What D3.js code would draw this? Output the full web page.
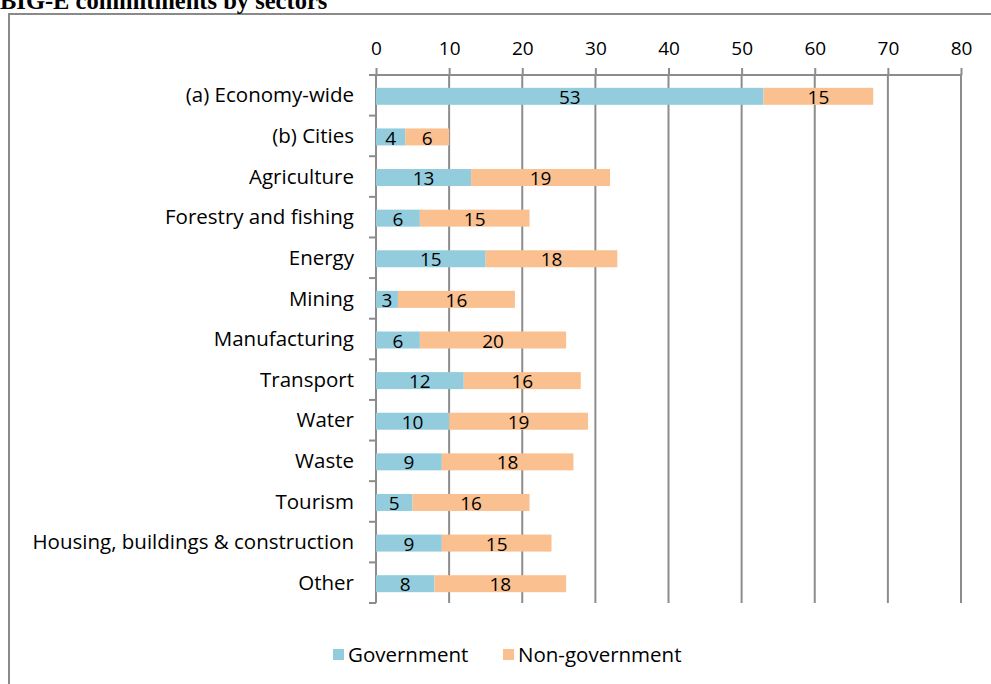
<!DOCTYPE html>
<html><head><meta charset="utf-8">
<script src="https://cdn.jsdelivr.net/npm/d3@7"></script>
<style>body{margin:0;background:#fff}svg{display:block}</style>
</head><body>
<svg id="c" width="991" height="684"></svg>
<script>
const categories = ["(a) Economy-wide","(b) Cities","Agriculture","Forestry and fishing","Energy","Mining","Manufacturing","Transport","Water","Waste","Tourism","Housing, buildings & construction","Other"];
const government = [53,4,13,6,15,3,6,12,10,9,5,9,8];
const nonGovernment = [15,6,19,15,18,16,20,16,19,18,16,15,18];
const seriesNames = ["Government","Non-government"];
const xTicks = [0,10,20,30,40,50,60,70,80];
const colors = ["#93CDDD","#FAC090"];
const title = "BIG-E commitments by sectors";

(function(){
const svg = d3.select("#c");
const font = "'Open Sans', sans-serif";
const fs = 19, fsCat = 20.5;
const pL = 376, pR = 961, pT = 75, pB = 603;
const x = d3.scaleLinear().domain([0,80]).range([pL,pR]);
const yb = d3.scaleBand().domain(categories).range([pT,pB]);

// frame
svg.append("path").attr("d",`M9,684 V14 H991`).attr("fill","none").attr("stroke","#8a8a8a").attr("stroke-width",2);
svg.append("text").attr("x",0).attr("y",9).attr("font-family","'Liberation Serif', serif").attr("font-weight","bold").attr("font-size",24.5).text(title);

// gridlines
svg.append("g").selectAll("line").data(xTicks.slice(1)).join("line")
  .attr("x1",d=>x(d)).attr("x2",d=>x(d)).attr("y1",pT).attr("y2",pB)
  .attr("stroke","#8c8c8c").attr("stroke-width",2);

// top axis
const xAxis = d3.axisTop(x).tickValues(xTicks).tickSize(7).tickPadding(13);
const gx = svg.append("g").attr("transform",`translate(0,${pT})`).call(xAxis);
gx.select(".domain").attr("stroke","#8c8c8c").attr("stroke-width",2).attr("d",`M${pL},0H${pR}`);
gx.selectAll(".tick line").attr("stroke","#8c8c8c").attr("stroke-width",2);
gx.selectAll("text").attr("font-family",font).attr("font-size",fs).attr("fill","#000");

// left axis
const gy = svg.append("g").attr("transform",`translate(${pL},0)`);
gy.append("line").attr("x1",0).attr("x2",0).attr("y1",pT).attr("y2",pB).attr("stroke","#8c8c8c").attr("stroke-width",2);
const bounds = categories.map(c=>yb(c)).concat([pB]);
gy.selectAll("line.t").data(bounds).join("line").attr("class","t")
  .attr("x1",-7).attr("x2",0).attr("y1",d=>d).attr("y2",d=>d).attr("stroke","#8c8c8c").attr("stroke-width",2);
gy.selectAll("text").data(categories).join("text")
  .attr("x",-22).attr("y",d=>yb(d)+yb.bandwidth()/2).attr("dy","0.35em")
  .attr("text-anchor","end").attr("font-family",font).attr("font-size",fsCat).text(d=>d);

// stacked bars
const rows = categories.map((c,i)=>({cat:c, Government:government[i], "Non-government":nonGovernment[i]}));
const stack = d3.stack().keys(seriesNames)(rows);
const barH = 17;
stack.forEach((s,si)=>{
  const g = svg.append("g");
  g.selectAll("rect").data(s).join("rect")
    .attr("x",d=>x(d[0])).attr("width",d=>x(d[1])-x(d[0]))
    .attr("y",d=>yb(d.data.cat)+yb.bandwidth()/2-barH/2+1).attr("height",barH)
    .attr("fill",colors[si]);
  g.selectAll("text").data(s).join("text")
    .attr("x",d=>(x(d[0])+x(d[1]))/2).attr("y",d=>yb(d.data.cat)+yb.bandwidth()/2+1).attr("dy","0.4em")
    .attr("text-anchor","middle").attr("font-family",font).attr("font-size",fs).attr("fill","#000")
    .text(d=>d[1]-d[0]);
});

// legend
const lg = svg.append("g");
const legendX = [333, 503];
seriesNames.forEach((n,i)=>{
  lg.append("rect").attr("x",legendX[i]).attr("y",649).attr("width",11).attr("height",11).attr("fill",colors[i]);
  lg.append("text").attr("x",legendX[i]+15).attr("y",655).attr("dy","0.35em").attr("font-family",font).attr("font-size",fsCat).text(n);
});
})();
</script>
</body></html>
